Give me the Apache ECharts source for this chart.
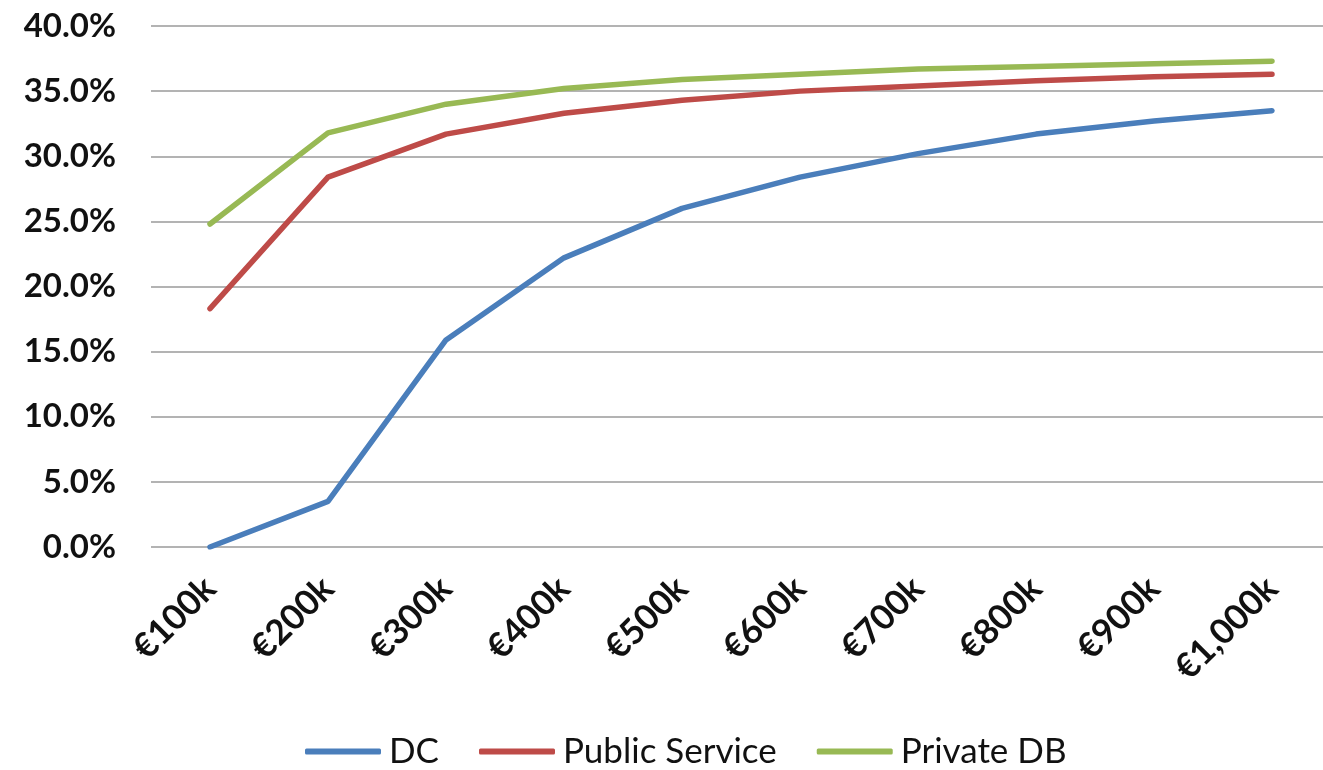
<!DOCTYPE html>
<html>
<head>
<meta charset="utf-8">
<script src="https://cdn.jsdelivr.net/npm/echarts@6/dist/echarts.min.js"></script>
<style>
  html, body { margin: 0; padding: 0; background: #ffffff; }
  #chart { width: 1323px; height: 770px; }
</style>
</head>
<body>
<div id="chart"></div>
<script>
// Salary levels on the x axis
const categories = ['€100k', '€200k', '€300k', '€400k', '€500k', '€600k', '€700k', '€800k', '€900k', '€1,000k'];

// Percentages per scheme
const dcValues = [0.0, 3.5, 15.9, 22.2, 26.0, 28.4, 30.2, 31.7, 32.7, 33.5];
const publicServiceValues = [18.3, 28.4, 31.7, 33.3, 34.3, 35.0, 35.4, 35.8, 36.1, 36.3];
const privateDbValues = [24.8, 31.8, 34.0, 35.2, 35.9, 36.3, 36.7, 36.9, 37.1, 37.3];

// Y axis range
const yMin = 0;
const yMax = 40;
const yStep = 5;

const FONT = 'Lato, "Open Sans", sans-serif';

const chart = echarts.init(document.getElementById('chart'), null, { renderer: 'canvas' });

function lineSeries(name, data, color) {
  return {
    name: name,
    type: 'line',
    data: data,
    symbol: 'none',
    smooth: false,
    color: color,
    lineStyle: { width: 5.5, color: color, cap: 'round', join: 'round' },
    emphasis: { disabled: true }
  };
}

chart.setOption({
  animation: false,
  backgroundColor: '#ffffff',
  grid: {
    left: 151,
    top: 26,
    right: -8,
    bottom: 223,
    containLabel: false,
    outerBoundsMode: 'none'
  },
  legend: {
    bottom: -4,
    left: 300,
    icon: 'roundRect',
    itemWidth: 76,
    itemHeight: 6,
    itemGap: 40,
    textStyle: { fontFamily: FONT, fontSize: 35, color: '#111111', padding: [0, 0, 0, 3] },
    data: ['DC', 'Public Service', 'Private DB']
  },
  xAxis: {
    type: 'category',
    data: categories,
    boundaryGap: true,
    axisLine: { show: false },
    axisTick: { show: false },
    splitLine: { show: false },
    axisLabel: {
      rotate: 45,
      margin: 36,
      interval: 0,
      fontFamily: FONT,
      fontWeight: 'bold',
      fontSize: 35,
      color: '#111111'
    }
  },
  yAxis: {
    type: 'value',
    min: yMin,
    max: yMax,
    interval: yStep,
    axisLine: { show: false },
    axisTick: { show: false },
    splitLine: { show: true, lineStyle: { color: '#9a9a9a', width: 1.5 } },
    axisLabel: {
      margin: 35,
      fontFamily: FONT,
      fontWeight: 'bold',
      fontSize: 33,
      color: '#111111',
      formatter: v => v.toFixed(1) + '%'
    }
  },
  series: [
    lineSeries('DC', dcValues, '#4a7ebb'),
    lineSeries('Public Service', publicServiceValues, '#be4b48'),
    lineSeries('Private DB', privateDbValues, '#98b954')
  ]
});
</script>
</body>
</html>
